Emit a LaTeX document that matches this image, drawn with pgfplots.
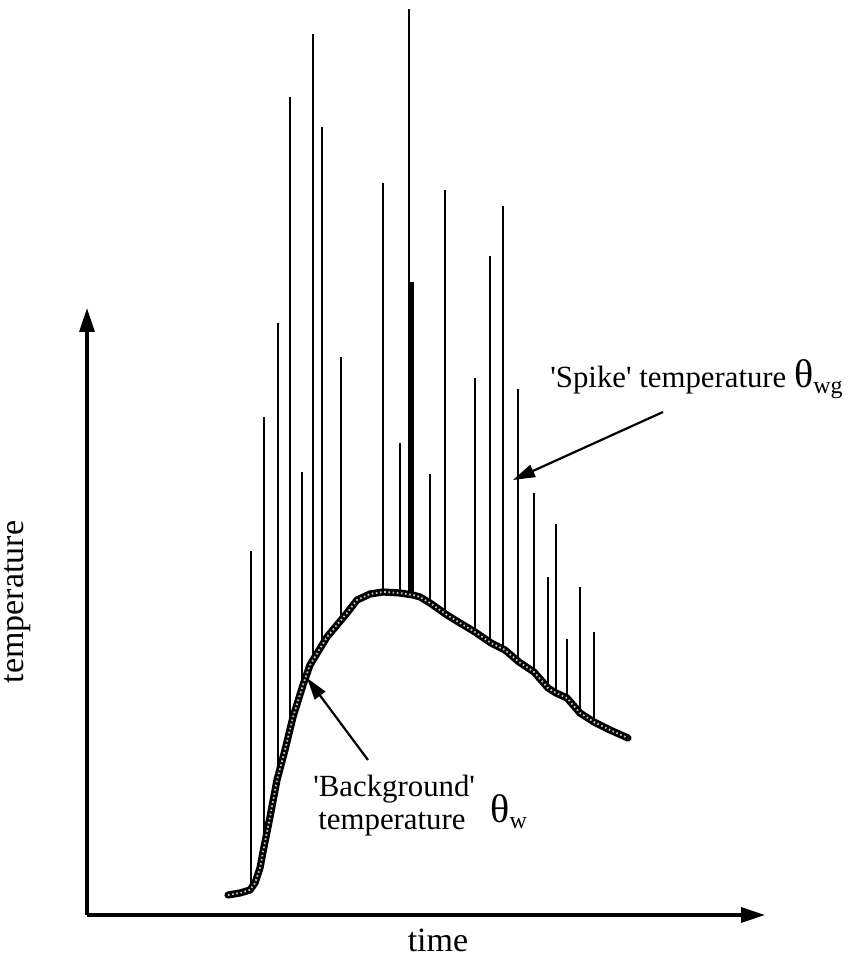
\documentclass[border=0pt]{standalone}
\usepackage{fontspec}
\setmainfont{Liberation Serif}
\usepackage{pgfplots}
\pgfplotsset{compat=1.18}
\usepackage{pgfplotstable}
\usetikzlibrary{arrows.meta}
\newcommand{\q}{\textquotesingle}

% background temperature curve (x, y)
\pgfplotstableread{
x y
228 64
240 66
250 69
255 76
260 91
263 107
270 142
277 179
285 209
293 242
303 274
310 294
327 322
347 346
357 359
370 365
383 367
400 366
413 364
420 362
430 356
447 344
460 336
475 327
491 316
505 309
519 297
534 287
548 271
556 266
567 261
580 246
594 237
610 229
628 221
}\background

% spikes: x, foot (on background), top
\pgfplotstableread{
x lo hi
251 70 408
264 112 542
278 183 636
290 230 862
302 271 487
313 299 925
322 314 832
341 339 602
383 367 776
400 366 516
409 365 950
430 356 485
445 345 769
475 327 581
490 317 703
503 310 753
518 298 570
534 287 466
548 271 382
556 266 435
567 261 320
580 246 372
594 237 327
}\spikes

\pgfplotstableread{
x lo hi
412 364 677
}\thickspike

\begin{document}
\begin{tikzpicture}
\begin{axis}[
  scale only axis, width=339pt, height=303.5pt,
  xmin=87, xmax=765, ymin=44, ymax=651,
  axis lines=left,
  axis line style={line width=1.6pt, -{Triangle[length=12pt,width=7.5pt]}},
  xtick=\empty, ytick=\empty, clip=false,
]
\addplot[draw=none, mark=none, forget plot,
  error bars/.cd, y dir=plus, y explicit, error mark=none,
  error bar style={line width=1pt, black}]
  table[x=x, y=lo, y error expr=\thisrow{hi}-\thisrow{lo}] {\spikes};
\addplot[draw=none, mark=none, forget plot,
  error bars/.cd, y dir=plus, y explicit, error mark=none,
  error bar style={line width=2pt, black}]
  table[x=x, y=lo, y error expr=\thisrow{hi}-\thisrow{lo}] {\thickspike};
\addplot[line width=3.6pt, black, line join=round, line cap=round, mark=none] table[x=x,y=y] {\background};
\addplot[line width=0.9pt, gray!45, dash pattern=on 0.8pt off 1.3pt, mark=none] table[x=x,y=y] {\background};

\draw[line width=1.1pt, -{Triangle[length=11pt,width=6.5pt]}] (axis cs:663,547) -- (axis cs:513,479);
\draw[line width=1.1pt, -{Triangle[length=11pt,width=6.5pt]}] (axis cs:368,199) -- (axis cs:307,281);

\node[anchor=base west, inner sep=0pt, font=\fontsize{15.4}{17}\selectfont] at (axis cs:550,571)
  {\q Spike\q{} temperature {\fontsize{20}{20}\selectfont θ}\raisebox{-3pt}{\fontsize{12}{12}\selectfont wg}};
\node[anchor=base west, inner sep=0pt, font=\fontsize{15.4}{17}\selectfont] at (axis cs:313,162) {\q Background\q};
\node[anchor=base west, inner sep=0pt, font=\fontsize{15.4}{17}\selectfont] at (axis cs:318,129) {temperature};
\node[anchor=base west, inner sep=0pt] at (axis cs:490,136)
  {{\fontsize{20}{20}\selectfont θ}\raisebox{-3pt}{\fontsize{12}{12}\selectfont w}};

\node[anchor=base, inner sep=0pt, font=\fontsize{17}{19}\selectfont] at (axis cs:438,8) {time};
\node[anchor=base, rotate=90, inner sep=0pt, font=\fontsize{17}{19}\selectfont] at (axis cs:24,357) {temperature};

\coordinate (bl) at (axis cs:0,0);
\coordinate (tr) at (axis cs:863,959);
\end{axis}
\path (bl) rectangle (tr);
\end{tikzpicture}
\end{document}
